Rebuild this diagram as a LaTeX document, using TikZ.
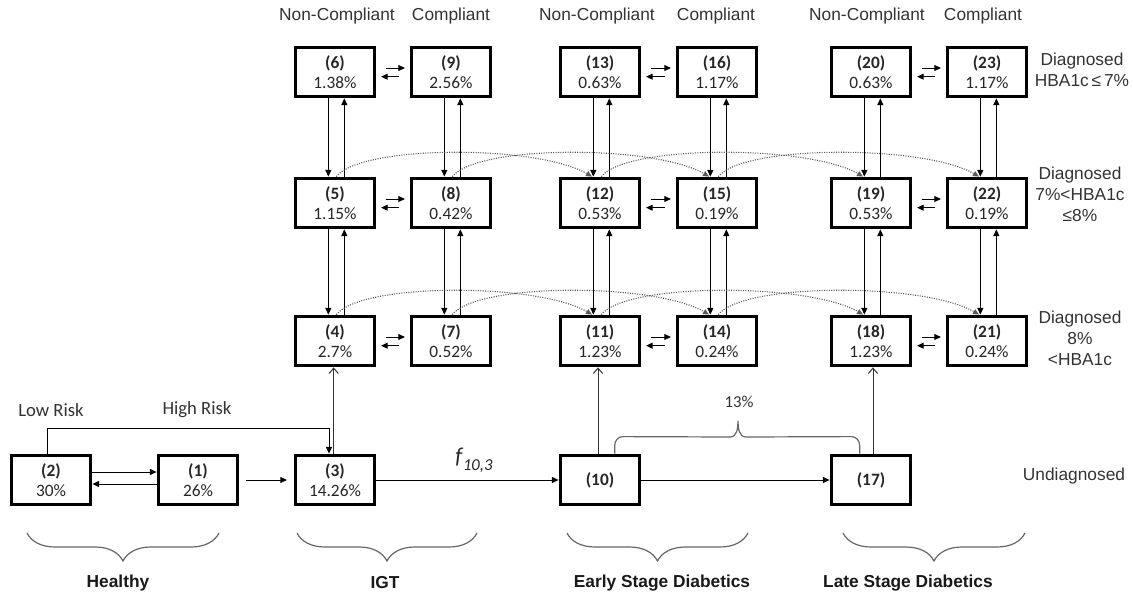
\documentclass[tikz,border=0pt]{standalone}
\usepackage{fontspec}
\setmainfont{Liberation Sans}
\newfontfamily\calib{Carlito}
\usetikzlibrary{arrows.meta,decorations.pathreplacing,calc}
\begin{document}
\begin{tikzpicture}[x=0.75pt,y=-0.75pt,
  box/.style={draw, line width=2.6pt, minimum width=59.5pt, minimum height=37pt, inner sep=0pt, align=center, text=black!85, font=\calib\fontsize{13}{15}\selectfont},
  arr/.style={-{Triangle[length=5pt,width=4.5pt]}, line width=0.75pt},
  oarr/.style={-{Straight Barb[length=4pt,width=7pt]}, line width=0.75pt, black!80},
  dotc/.style={densely dotted, black!65, line width=0.8pt, -{Triangle[length=4.5pt,width=4pt]}},
  lab/.style={align=center, text=black!80, font=\fontsize{13}{15.75}\selectfont},
  clab/.style={align=center, text=black!80, font=\calib\fontsize{14}{16}\selectfont},
  blab/.style={text=black!90, font=\bfseries\fontsize{13}{15}\selectfont},
  brc/.style={decorate, decoration={brace,mirror,amplitude=21pt}, black!60, line width=0.9pt}
]
\useasboundingbox (0,0) rectangle (1133,597);

% boxes row 1
\node[box] (n6)  at (335,72) {\textbf{(6)}\\1.38\%};
\node[box] (n9)  at (451,72) {\textbf{(9)}\\2.56\%};
\node[box] (n13) at (600,72) {\textbf{(13)}\\0.63\%};
\node[box] (n16) at (717,72) {\textbf{(16)}\\1.17\%};
\node[box] (n20) at (871,72) {\textbf{(20)}\\0.63\%};
\node[box] (n23) at (987,72) {\textbf{(23)}\\1.17\%};
% row 2
\node[box] (n5)  at (335,203) {\textbf{(5)}\\1.15\%};
\node[box] (n8)  at (451,203) {\textbf{(8)}\\0.42\%};
\node[box] (n12) at (600,203) {\textbf{(12)}\\0.53\%};
\node[box] (n15) at (717,203) {\textbf{(15)}\\0.19\%};
\node[box] (n19) at (871,203) {\textbf{(19)}\\0.53\%};
\node[box] (n22) at (987,203) {\textbf{(22)}\\0.19\%};
% row 3
\node[box] (n4)  at (335,341) {\textbf{(4)}\\2.7\%};
\node[box] (n7)  at (451,341) {\textbf{(7)}\\0.52\%};
\node[box] (n11) at (600,341) {\textbf{(11)}\\1.23\%};
\node[box] (n14) at (717,341) {\textbf{(14)}\\0.24\%};
\node[box] (n18) at (871,341) {\textbf{(18)}\\1.23\%};
\node[box] (n21) at (987,341) {\textbf{(21)}\\0.24\%};
% row 4
\node[box] (n2)  at (51,480)  {\textbf{(2)}\\30\%};
\node[box] (n1)  at (198,480) {\textbf{(1)}\\26\%};
\node[box] (n3)  at (335,480) {\textbf{(3)}\\14.26\%};
\node[box] (n10) at (600,480) {\textbf{(10)}};
\node[box] (n17) at (871,480) {\textbf{(17)}};

% vertical arrow pairs
\foreach \a/\b in {n6/n5,n9/n8,n13/n12,n16/n15,n20/n19,n23/n22,n5/n4,n8/n7,n12/n11,n15/n14,n19/n18,n22/n21}{
  \draw[arr] ([xshift=-5pt]\a.south) -- ([xshift=-5pt]\b.north);
  \draw[arr] ([xshift=7pt]\b.north) -- ([xshift=7pt]\a.south);
}
% horizontal arrow pairs
\foreach \a/\b in {n6/n9,n13/n16,n20/n23,n5/n8,n12/n15,n19/n22,n4/n7,n11/n14,n18/n21}{
  \draw[arr] ([xshift=7pt,yshift=3pt]\a.east) -- ([xshift=-3.5pt,yshift=3pt]\b.west);
  \draw[arr] ([xshift=-8pt,yshift=-3.5pt]\b.west) -- ([xshift=3.5pt,yshift=-3.5pt]\a.east);
}
% dotted curves
\foreach \a/\b in {n5/n12,n8/n15,n12/n19,n15/n22,n4/n11,n7/n14,n11/n18,n14/n21}{
  \draw[dotc] ([xshift=1pt]\a.north) .. controls +(25,-32) and +(-55,-32) .. ([xshift=-6pt]\b.north);
}

% bottom row connectors
\draw[arr] ([yshift=6pt]n2.east) -- ([yshift=6pt]n1.west);
\draw[arr] ([yshift=-3pt]n1.west) -- ([yshift=-3pt]n2.east);
\draw[arr] ([xshift=5pt]n1.east) -- ([xshift=-5pt]n3.west);
\draw[arr] (n3.east) -- (n10.west);
\draw[arr] (n10.east) -- (n17.west);
\draw[arr] ([xshift=-3pt]n2.north) -- ++(0,-25) -| ([xshift=-4.5pt]n3.north);
\draw[oarr] ([xshift=-1pt]n3.north) -- ([xshift=-1pt]n4.south);
\draw[oarr] ([xshift=-1.5pt]n10.north) -- ([xshift=-1.5pt]n11.south);
\draw[oarr] ([xshift=1.5pt]n17.north) -- ([xshift=1.5pt]n18.south);

% 13% brace
\coordinate (bl) at ([xshift=11pt]n10.north);
\coordinate (br) at ([xshift=-8.5pt]n17.north);
\draw[black!60, line width=0.9pt] (bl) -- ++(0,-8) to[out=90,in=180] ++(8,-9) -- (730,437)
  to[out=0,in=-90] (738,421) to[out=-90,in=180] (746,437) -- ($(br)+(-8,-17)$) to[out=0,in=90] ($(br)+(0,-8)$) -- (br);
\node[clab, font=\calib\fontsize{12.5}{15}\selectfont] (p13) at (739,402) {13\%};

% f label
\node[text=black!85] (f103) at (474,460) {\calib\itshape\fontsize{17}{17}\selectfont f\kern0.5pt\raisebox{-5pt}{\fontsize{12.5}{12.5}\selectfont 10,3}};

% labels
\node[clab] (lr) at (51,410) {Low Risk};
\node[clab] (hr) at (197,410) {High Risk};
\node[lab] (h1) at (337,16) {Non-Compliant};
\node[lab] (h2) at (451,16) {Compliant};
\node[lab] (h3) at (597,16) {Non-Compliant};
\node[lab] (h4) at (716,16) {Compliant};
\node[lab] (h5) at (867,16) {Non-Compliant};
\node[lab] (h6) at (983,16) {Compliant};
\node[lab] (d1) at (1082,70) {Diagnosed\\HBA1c\,≤\,7\%};
\node[lab] (d2) at (1080,194) {Diagnosed\\7\%<HBA1c\\≤8\%};
\node[lab] (d3) at (1080,338) {Diagnosed\\8\%\\<HBA1c};
\node[lab] (und) at (1074,476) {Undiagnosed};

% braces
\draw[brc] (27,533) -- (219,533);
\draw[brc] (297,533) -- (477,533);
\draw[brc] (567,533) -- (748,533);
\draw[brc] (843,533) -- (1025,533);
\node[blab] (g1) at (118,583) {Healthy};
\node[blab] (g2) at (385,583) {IGT};
\node[blab] (g3) at (662,583) {Early Stage Diabetics};
\node[blab] (g4) at (908,583) {Late Stage Diabetics};
\end{tikzpicture}
\end{document}
